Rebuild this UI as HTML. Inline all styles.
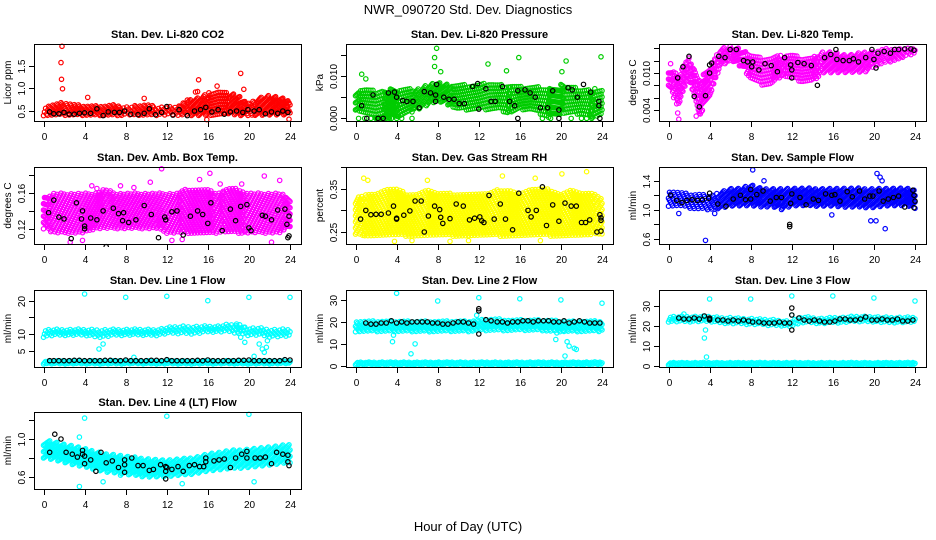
<!DOCTYPE html>
<html><head><meta charset="utf-8">
<style>
html,body{margin:0;padding:0;background:#fff;}
svg{display:block;font-family:"Liberation Sans",sans-serif;}
</style></head>
<body>
<svg id="chart" width="936" height="540" viewBox="0 0 936 540" xmlns="http://www.w3.org/2000/svg">
<text x="468" y="14" text-anchor="middle" font-size="13">NWR_090720  Std. Dev. Diagnostics</text>
<text x="468" y="531" text-anchor="middle" font-size="13">Hour of Day (UTC)</text>
</svg>
<script>
// ---- data (hourly band lo/hi at hours 0..24, outliers, black points) ----
const xTicks = [0,4,8,12,16,20,24];

const co2Hi = [0.6,0.65,0.7,0.65,0.62,0.62,0.62,0.65,0.6,0.62,0.65,0.6,0.6,0.6,0.75,0.8,0.9,0.95,0.9,0.85,0.7,0.8,0.85,0.8,0.75];
const co2Lo = [0.4,0.4,0.4,0.4,0.4,0.4,0.4,0.4,0.4,0.4,0.4,0.4,0.4,0.4,0.4,0.4,0.4,0.4,0.4,0.4,0.4,0.4,0.4,0.4,0.4];
const co2Out = [[1.7,1.57],[1.8,1.93],[1.75,1.2],[1.85,0.99],[15.1,1.19],[19.2,1.33],[19.5,0.98],[16.9,1.05],[23.9,0.32],[15.9,0.31],[4.3,0.8],[9.8,0.78],[14.8,0.92],[15,0.93]];
const co2Black = [[0.6,0.48],[1,0.44],[1.5,0.44],[2,0.47],[2.5,0.43],[3,0.43],[3.5,0.45],[4,0.46],[4.6,0.45],[5.2,0.55],[5.8,0.4],[6.3,0.48],[6.9,0.47],[7.4,0.47],[7.9,0.5],[8.5,0.43],[9.2,0.42],[9.8,0.45],[10.3,0.55],[10.9,0.42],[11.5,0.47],[12,0.6],[12.6,0.41],[13.2,0.53],[14,0.4],[14.7,0.5],[15.3,0.53],[15.8,0.58],[16.4,0.48],[17,0.53],[17.6,0.43],[18.2,0.48],[18.8,0.5],[19.4,0.47],[19.9,0.53],[20.5,0.5],[21,0.53],[21.6,0.44],[22.2,0.48],[22.8,0.45],[23.3,0.5],[23.8,0.47]];

const presHi = [0.007,0.007,0.0065,0.007,0.007,0.007,0.007,0.008,0.0085,0.008,0.008,0.008,0.008,0.0085,0.008,0.008,0.0075,0.0075,0.0075,0.007,0.008,0.0075,0.007,0.007,0.007];
const presLo = [0.002,0.001,0,0,0,0.001,0.002,0.003,0.004,0.003,0.002,0.002,0.002,0.002,0.002,0.001,0.002,0.002,0.001,0,0.001,0.001,0.001,0,0.001];
const presOut = [[0.6,0.0104],[1.0,0.0093],[7.7,0.0143],[7.9,0.0165],[7.7,0.0122],[8.3,0.011],[12.9,0.0128],[14.7,0.0112],[15.9,0.0143],[20.1,0.011],[20.5,0.0135],[23.9,0.0145],[0.3,0],[0.9,0],[1.5,0],[2.0,0],[2.5,0],[3.0,0],[3.5,0],[4.0,0],[4.5,0],[5.5,0],[18.2,0],[19.0,0],[21.0,0],[22.0,0],[22.5,0],[23.0,0]];
const presBlack = [[0.6,0.003],[1.1,0],[1.7,0.0055],[2.2,0],[2.7,0],[3.2,0.006],[3.8,0.0062],[4,0.005],[4.6,0.0042],[5,0.004],[5.6,0.004],[6.2,0.0025],[6.7,0.0063],[7.3,0.006],[7.9,0.008],[7.8,0.0055],[7.8,0.004],[8.6,0.005],[9.1,0.0045],[9.6,0.0045],[10.1,0.0035],[10.6,0.0035],[11.4,0.0075],[11.9,0.0082],[12,0.0022],[12.7,0.007],[13.2,0.004],[13.6,0.004],[14.3,0.0075],[15.0,0.004],[15.5,0.003],[15.8,0.0065],[15.8,0],[16.5,0.0067],[17.0,0.006],[17.5,0.005],[18,0.0025],[18.7,0.0025],[19.2,0.0065],[19.8,0.002],[19.8,0],[20.7,0.0072],[21.1,0.0067],[21.6,0.005],[22.2,0.008],[22.9,0.0062],[23.7,0.004],[23.7,0.003],[23.8,0]];

const tempHi = [0.011,0.010,0.0125,0.009,0.011,0.014,0.0145,0.014,0.013,0.0125,0.0125,0.013,0.013,0.0125,0.0125,0.0135,0.0135,0.013,0.013,0.0135,0.0135,0.014,0.014,0.014,0.014];
const tempLo = [0.008,0.005,0.009,0.003,0.006,0.011,0.012,0.011,0.009,0.008,0.008,0.0095,0.009,0.0085,0.0085,0.010,0.010,0.010,0.010,0.010,0.011,0.0115,0.012,0.0125,0.013];
const tempOut = [[0.2,0.0115],[1.0,0.0025],[0.9,0.0035],[0.8,0.005],[0.5,0.006],[2.7,0.003],[3.0,0.0035]];
const tempBlack = [[0.9,0.0092],[1.4,0.011],[2.0,0.0127],[2.5,0.0062],[3.0,0.0045],[3.6,0.0063],[4.0,0.0113],[4.2,0.0116],[4.0,0.010],[4.9,0.0127],[5.5,0.0125],[6.0,0.0138],[6.6,0.0138],[7.3,0.012],[7.7,0.0118],[8.2,0.0118],[8.1,0.011],[8.8,0.0105],[9.4,0.0115],[10,0.0112],[10.6,0.0102],[11.3,0.0125],[11.9,0.0113],[12.0,0.0105],[12.0,0.0092],[12.6,0.0117],[13.2,0.0115],[13.9,0.0112],[14.5,0.008],[15.2,0.0125],[15.8,0.013],[16.3,0.0138],[16.4,0.0122],[17.0,0.012],[17.6,0.012],[18.0,0.0123],[18.5,0.0118],[19.2,0.0125],[19.8,0.0138],[20.0,0.0122],[20.2,0.0108],[20.4,0.0132],[21.0,0.0135],[21.6,0.0132],[22.0,0.0138],[22.4,0.0138],[23.0,0.0139],[23.6,0.0139],[23.9,0.0137]];

const ambHi = [0.155,0.16,0.16,0.16,0.16,0.16,0.165,0.16,0.16,0.16,0.16,0.16,0.16,0.16,0.165,0.165,0.165,0.16,0.165,0.165,0.16,0.16,0.16,0.16,0.155];
const ambLo = [0.12,0.115,0.115,0.115,0.115,0.12,0.12,0.12,0.12,0.12,0.12,0.12,0.115,0.115,0.115,0.115,0.115,0.115,0.115,0.115,0.115,0.115,0.115,0.115,0.12];
const ambOut = [[4.7,0.168],[5.2,0.165],[11.5,0.187],[10.4,0.172],[15.2,0.175],[16.2,0.182],[21.5,0.179],[23,0.174],[17.2,0.17],[19.3,0.17],[2.6,0.105],[3.8,0.107],[12.5,0.107],[22.2,0.105],[13.5,0.108],[7.5,0.168],[8.8,0.166]];
const ambBlack = [[0.5,0.138],[1.0,0.152],[1.5,0.133],[2.0,0.131],[2.7,0.109],[3.2,0.149],[3.7,0.131],[3.8,0.14],[4,0.123],[4.0,0.12],[4.6,0.132],[5.2,0.13],[5.8,0.14],[6.1,0.10],[6.8,0.143],[7.3,0.137],[7.8,0.138],[7.7,0.129],[8.3,0.127],[9.0,0.13],[9.8,0.146],[10.5,0.136],[11.2,0.11],[11.8,0.133],[11.9,0.13],[12.5,0.139],[13.0,0.14],[13.6,0.113],[14.3,0.134],[15.0,0.14],[15.5,0.136],[16.0,0.126],[16.3,0.149],[17.4,0.118],[18.2,0.142],[18.7,0.129],[19.2,0.145],[19.8,0.147],[20.0,0.121],[20.2,0.118],[21.3,0.135],[21.6,0.134],[22.2,0.13],[22.8,0.141],[23.5,0.142],[23.9,0.134],[23.7,0.125],[23.8,0.11],[23.9,0.112]];

const rhHi = [0.33,0.34,0.34,0.35,0.35,0.34,0.34,0.35,0.34,0.34,0.34,0.34,0.34,0.34,0.35,0.35,0.34,0.35,0.35,0.35,0.34,0.35,0.34,0.34,0.33];
const rhLo = [0.245,0.24,0.24,0.24,0.24,0.24,0.24,0.24,0.24,0.24,0.24,0.24,0.24,0.24,0.24,0.24,0.24,0.24,0.24,0.24,0.24,0.24,0.24,0.24,0.245];
const rhOut = [[0.8,0.375],[1.2,0.37],[7,0.37],[14.3,0.38],[20.1,0.385],[22.5,0.39],[17.5,0.375],[3.8,0.228],[9.2,0.228],[18,0.23],[5.5,0.23],[11,0.23]];
const rhBlack = [[0.5,0.28],[1.0,0.30],[1.5,0.29],[2.0,0.291],[2.5,0.291],[3.2,0.294],[3.7,0.31],[4,0.282],[4.0,0.28],[4.7,0.289],[5.3,0.299],[5.8,0.322],[6.4,0.322],[6.7,0.25],[7.1,0.287],[7.7,0.31],[8.2,0.302],[8.3,0.284],[8.5,0.27],[9.2,0.281],[9.8,0.315],[10.5,0.31],[11.1,0.278],[11.6,0.282],[12.1,0.285],[12.3,0.276],[12.5,0.272],[13.0,0.335],[13.5,0.28],[14.1,0.315],[14.6,0.28],[15.3,0.255],[15.9,0.34],[16.8,0.30],[17.1,0.285],[17.6,0.3],[18.2,0.355],[18.6,0.265],[19.2,0.313],[19.8,0.275],[20.4,0.317],[21.0,0.31],[21.5,0.31],[22.0,0.272],[22.4,0.272],[22.8,0.278],[23.5,0.25],[23.9,0.252],[23.8,0.29],[23.9,0.283],[23.9,0.277]];

const flowHi = [1.27,1.25,1.22,1.22,1.2,1.25,1.3,1.3,1.35,1.3,1.3,1.3,1.3,1.3,1.3,1.3,1.3,1.3,1.3,1.3,1.3,1.3,1.3,1.3,1.28];
const flowLo = [1.05,1.05,1.02,1.0,1.0,1.02,1.05,1.05,1.05,1.03,1.05,1.0,1.05,1.05,1.05,1.05,1.05,1.03,1.03,1.03,1.03,1.05,1.05,1.05,1.02];
const flowOut = [[3.6,0.58],[8.2,1.55],[9.3,1.4],[20.3,1.5],[20.6,1.45],[20.8,1.4],[19.7,0.85],[20.2,0.85],[21.1,0.74],[4.5,0.95],[1.0,0.95],[15.9,0.93]];
const flowBlack = [[0.2,1.2],[0.8,1.13],[1.3,1.1],[1.8,1.13],[2.3,1.14],[2.8,1.13],[3.3,1.14],[3.9,1.16],[4.0,1.23],[4.8,1.08],[5.6,1.05],[6.3,1.15],[7.0,1.2],[7.5,1.14],[8.0,1.28],[8.0,1.15],[8.6,1.21],[9.2,1.26],[9.9,1.12],[10.5,1.17],[11.0,1.17],[11.9,1.09],[12.0,1.22],[11.8,0.8],[11.8,0.77],[12.8,1.17],[13.4,1.07],[14.1,1.15],[14.6,1.13],[15.3,1.22],[15.9,1.2],[16.2,1.21],[16.7,1.12],[17.4,1.25],[17.9,1.18],[18.6,1.26],[19.1,1.15],[19.6,1.19],[19.9,1.19],[20.5,1.26],[20.9,1.12],[21.4,1.15],[21.9,1.17],[22.4,1.19],[23.0,1.04],[23.8,1.27],[23.9,1.2],[23.9,1.03],[24,1.12]];

const line1Hi = [11.5,11.5,11.5,11.5,11.5,11.5,11.5,11.5,11.5,11.5,11.5,11.5,12,12.5,12.5,12.5,12.5,12.5,13,13,12,12,11.5,11.5,11.5];
const line1Lo = [9,9.5,9.5,9.5,9.5,9,9,9.5,9.5,9.5,9.5,9.5,10,10,10,10,10.5,10.5,10.5,10,9.5,9.5,9,9,9];
const line1BaseHi = [2,2,2,2,2,2,2,2,2,2,2,2,2,2,2,2,2,2,2,2,2,2,2,2,2];
const line1BaseLo = [1,1,1,1,1,1,1,1,1,1,1,1,1,1,1,1,1,1,1,1,1,1,1,1,1];
const line1Out = [[4,22],[8,21],[12,21.3],[16,20],[20,21],[24,21],[5.4,5.5],[5.8,7],[19.2,9],[19.6,7.5],[21,7],[21.5,4.5],[21.7,6],[21.3,5.5],[21.8,8],[20.5,3.3],[19.5,12],[18.8,13],[8.8,3]];
const line1BlackHours = [0.6,1.0,1.5,2.0,2.5,3.0,3.5,4.0,4.5,5.0,5.5,6.0,6.5,7.0,7.5,8.0,8.5,9.0,9.5,10.0,10.5,11.0,11.5,12.0,12.5,13.0,13.5,14.0,14.5,15.0,15.5,16.0,16.5,17.0,17.5,18.0,18.5,19.0,19.5,20.0,20.5,21.0,21.5,22.0,22.5,23.0,23.5,24.0];
const line1BlackVals = [2,2,2,2,2,2.1,2.1,2,2,2,2,2.1,2.1,2,2,2.2,2,2,2,2,2.1,2.1,2,2.3,2,2,2,2,2,2.1,2,2.2,2,2,2,2,2,2.1,2.1,2.2,2,2,2,2,2,2,2.3,2.2];

const line2Hi = [20.5,20.5,20.5,20.5,20.5,20.5,20.5,20.5,20.5,20.5,20.5,20.5,21,21.5,21.5,21,21,21,21,21,20.5,20.5,20.5,20.5,20.5];
const line2Lo = [15.5,15.5,15.5,15.5,15.5,15.5,15.5,15.5,15.5,15.5,15.5,15.5,16,16,16,16,16,16,16,15.5,15.5,15.5,15.5,15.5,15.5];
const line2BaseHi = [1.8,1.8,1.8,1.8,1.8,1.8,1.8,1.8,1.8,1.8,1.8,1.8,1.8,1.8,1.8,1.8,1.8,1.8,1.8,1.8,1.8,1.8,1.8,1.8,1.8];
const line2BaseLo = [0.5,0.5,0.5,0.5,0.5,0.5,0.5,0.5,0.5,0.5,0.5,0.5,0.5,0.5,0.5,0.5,0.5,0.5,0.5,0.5,0.5,0.5,0.5,0.5,0.5];
const line2Out = [[4,33],[8,29.5],[12,31],[16,30.5],[20,30],[24,28.5],[3.6,11],[3.7,14],[5.4,5.5],[5.8,10],[19.5,12],[19.6,15],[20.2,16],[20.4,4.5],[20.6,11],[20.8,9],[21.3,8],[21.5,7.5],[11.8,23]];
const line2BlackHours = [1.0,1.5,2.0,2.5,3.0,3.5,4.0,4.5,5.0,5.5,6.0,6.5,7.0,7.5,8.0,8.5,9.0,9.5,10.0,10.5,11.0,11.5,12.0,12.0,12.0,12.7,13.2,13.8,14.3,14.8,15.3,15.8,16.3,16.8,17.3,17.8,18.3,18.8,19.3,19.8,20.3,20.8,21.3,21.8,22.3,22.8,23.3,23.8];
const line2BlackVals = [19.5,19,19,19.5,19.5,20.5,19.5,20,19.5,20,20,20,20,19.5,19.5,19,19,19.5,20,20,19.5,19,26,25,14.5,21,20.5,20,20,19.5,20,20,20.5,20.5,20,20.5,20.5,20.5,20,20,20.5,19.5,20,20.5,20,19.5,19.5,19.5];

const line3Hi = [25,25,25,25,25,24.5,24.5,24,24,23.5,23.5,23,22.5,25,24.5,24,24.5,24.5,25,25,25,24.5,24.5,24.5,24.5];
const line3Lo = [22,22,22,22,22,21.5,21,21,20.5,20.5,20,20,19.5,21.5,21.5,21,21.5,21.5,22,22,22,21.5,21.5,21.5,21.5];
const line3BaseHi = [1.8,1.8,1.8,1.8,1.8,1.8,1.8,1.8,1.8,1.8,1.8,1.8,1.8,1.8,1.8,1.8,1.8,1.8,1.8,1.8,1.8,1.8,1.8,1.8,1.8];
const line3BaseLo = [0.5,0.5,0.5,0.5,0.5,0.5,0.5,0.5,0.5,0.5,0.5,0.5,0.5,0.5,0.5,0.5,0.5,0.5,0.5,0.5,0.5,0.5,0.5,0.5,0.5];
const line3Out = [[4,33.5],[8,33.5],[12,35],[16,35],[20,34],[24,32.5],[3.5,14],[3.6,18],[3.7,4.5],[12,25.5],[1.5,26]];
const line3BlackHours = [1.0,1.5,2.0,2.5,3.0,3.5,4.0,4.0,4.0,4.8,5.3,5.8,6.3,6.8,7.3,7.8,8.2,8.8,9.3,9.8,10.3,10.8,11.3,11.8,12.0,12.0,12.0,12.7,13.2,13.7,14.2,14.7,15.2,15.7,16.2,16.7,17.2,17.7,18.2,18.7,19.2,19.8,20.3,20.8,21.3,21.8,22.3,22.8,23.3,23.8];
const line3BlackVals = [24,23.5,23.5,24,23.5,25,24,23,23.5,23,23,22.5,23,22.5,23,22.5,22,22,21.5,21.5,21.5,22,21.5,21.5,29,25.5,18,24,23,22.5,23,22.5,22,22,22.5,23.5,23.5,23,23,23.5,24.5,23,23,23.5,23,23,23.5,22.5,22.5,23];

const line4Hi = [1.0,0.98,0.95,0.93,0.9,0.88,0.85,0.84,0.82,0.81,0.8,0.79,0.78,0.79,0.8,0.82,0.85,0.86,0.88,0.89,0.9,0.91,0.92,0.93,0.95];
const line4Lo = [0.8,0.78,0.75,0.72,0.7,0.68,0.65,0.64,0.62,0.61,0.6,0.6,0.6,0.61,0.62,0.64,0.66,0.67,0.68,0.69,0.7,0.71,0.72,0.73,0.75];
const line4Out = [[4,1.22],[12,1.24],[20,1.26],[3.5,0.5],[5.8,0.55],[20.5,0.55],[13.5,0.53],[3.5,1.02],[7.5,0.62]];
const line4Black = [[0.6,0.86],[1.1,1.05],[1.7,1.0],[2.2,0.86],[2.8,0.84],[3.3,0.81],[3.8,0.88],[3.8,0.84],[4,0.82],[4.0,0.74],[4.6,0.78],[5.1,0.66],[5.6,0.86],[6.1,0.75],[6.7,0.77],[7.3,0.7],[7.9,0.78],[7.9,0.73],[7.9,0.65],[8.6,0.8],[9.2,0.72],[9.7,0.72],[10.3,0.67],[10.7,0.68],[11.4,0.73],[11.9,0.71],[11.9,0.66],[12,0.7],[11.9,0.58],[12.5,0.68],[13.1,0.71],[13.6,0.66],[14.2,0.72],[14.7,0.73],[15.2,0.71],[15.6,0.71],[15.8,0.8],[15.8,0.76],[16.6,0.77],[17.1,0.78],[17.6,0.79],[18.2,0.7],[18.7,0.8],[19.3,0.84],[19.8,0.87],[19.8,0.8],[20.6,0.8],[21.1,0.8],[21.6,0.81],[22.2,0.74],[22.7,0.86],[23.3,0.84],[23.8,0.83],[23.9,0.72],[23.8,0.76]];

function zip(h, v){ return h.map((t,i)=>[t, v[i]]); }

const panels = [
 {key:'co2', title:'Stan. Dev. Li-820 CO2', ylab:'Licor ppm', col:0,row:0, ymin:0.28,ymax:1.98, ticks:[0.5,1.0,1.5], labels:['0.5','1.0','1.5'], color:'#ff0000', bands:[[co2Lo,co2Hi]], out:co2Out, black:co2Black},
 {key:'pressure', title:'Stan. Dev. Li-820 Pressure', ylab:'kPa', col:1,row:0, ymin:-0.0006,ymax:0.0175, ticks:[0,0.005,0.010,0.015], labels:['0.000','','0.010',''], color:'#00cc00', bands:[[presLo,presHi]], out:presOut, black:presBlack},
 {key:'temp', title:'Stan. Dev. Li-820 Temp.', ylab:'degrees C', col:2,row:0, ymin:0.0022,ymax:0.0147, ticks:[0.004,0.006,0.008,0.010,0.012,0.014], labels:['0.004','','','0.010','',''], color:'#ff00ff', bands:[[tempLo,tempHi]], out:tempOut, black:tempBlack},
 {key:'ambbox', title:'Stan. Dev. Amb. Box Temp.', ylab:'degrees C', col:0,row:1, ymin:0.103,ymax:0.189, ticks:[0.12,0.14,0.16,0.18], labels:['0.12','','0.16',''], color:'#ff00ff', bands:[[ambLo,ambHi]], out:ambOut, black:ambBlack},
 {key:'rh', title:'Stan. Dev. Gas Stream RH', ylab:'percent', col:1,row:1, ymin:0.222,ymax:0.401, ticks:[0.25,0.30,0.35,0.40], labels:['0.25','','0.35',''], color:'#ffff00', bands:[[rhLo,rhHi]], out:rhOut, black:rhBlack},
 {key:'sampleflow', title:'Stan. Dev. Sample Flow', ylab:'ml/min', col:2,row:1, ymin:0.53,ymax:1.59, ticks:[0.6,0.8,1.0,1.2,1.4], labels:['0.6','','1.0','','1.4'], color:'#0000ff', bands:[[flowLo,flowHi]], out:flowOut, black:flowBlack},
 {key:'line1', title:'Stan. Dev. Line 1 Flow', ylab:'ml/min', col:0,row:2, ymin:0.1,ymax:23.2, ticks:[5,10,15,20], labels:['5','10','','20'], color:'#00ffff', bands:[[line1Lo,line1Hi],[line1BaseLo,line1BaseHi]], out:line1Out, black:zip(line1BlackHours,line1BlackVals)},
 {key:'line2', title:'Stan. Dev. Line 2 Flow', ylab:'ml/min', col:1,row:2, ymin:-0.5,ymax:34.5, ticks:[0,10,20,30], labels:['0','10','20','30'], color:'#00ffff', bands:[[line2Lo,line2Hi],[line2BaseLo,line2BaseHi]], out:line2Out, black:zip(line2BlackHours,line2BlackVals)},
 {key:'line3', title:'Stan. Dev. Line 3 Flow', ylab:'ml/min', col:2,row:2, ymin:-0.5,ymax:38, ticks:[0,10,20,30], labels:['0','10','20','30'], color:'#00ffff', bands:[[line3Lo,line3Hi],[line3BaseLo,line3BaseHi]], out:line3Out, black:zip(line3BlackHours,line3BlackVals)},
 {key:'line4', title:'Stan. Dev. Line 4 (LT) Flow', ylab:'ml/min', col:0,row:3, ymin:0.474,ymax:1.284, ticks:[0.6,0.8,1.0,1.2], labels:['0.6','','1.0',''], color:'#00ffff', bands:[[line4Lo,line4Hi]], out:line4Out, black:line4Black}
];

const NS='http://www.w3.org/2000/svg';
const svg=document.getElementById('chart');
const colLeft=[34,346,659], rowTop=[44,167,290,412], PW=267, PH=77;

function el(tag, parent){ const e=document.createElementNS(NS,tag); parent.appendChild(e); return e; }
function interp(arr,t){ const i=Math.min(23,Math.floor(t)); const f=t-i; return arr[i]*(1-f)+arr[i+1]*f; }

panels.forEach(p=>{
  const L=colLeft[p.col], T=rowTop[p.row];
  const xs=t=>L+9.5+t*(246.5/24);
  const ys=v=>T+PH-(v-p.ymin)/(p.ymax-p.ymin)*PH;
  const g=el('g',svg);
  
  
  const clipId='clip-'+p.key;
  const cp=el('clipPath',g); cp.setAttribute('id',clipId);
  const cr=el('rect',cp); cr.setAttribute('x',L-3); cr.setAttribute('y',T-3); cr.setAttribute('width',PW+6); cr.setAttribute('height',PH+6);

  const title=el('text',g);
  
  
  title.setAttribute('x',L+PW/2); title.setAttribute('y',T-6);
  title.setAttribute('text-anchor','middle'); title.setAttribute('font-size','11'); title.setAttribute('font-weight','bold');
  title.textContent=p.title;

  const marks=el('g',g);
  
  
  marks.setAttribute('clip-path','url(#'+clipId+')');
  marks.setAttribute('fill','none'); marks.setAttribute('stroke-width','1.2');

  function dot(t,v,color,name){
    const c=el('circle',marks);
    
    
    c.setAttribute('cx',xs(t).toFixed(1)); c.setAttribute('cy',ys(v).toFixed(1));
    c.setAttribute('r','2.2'); c.setAttribute('stroke',color);
  }
  p.bands.forEach(b=>{
    const lo=b[0], hi=b[1];
    for(let c=0;c<=240;c++){
      const t=c*0.1;
      const l=interp(lo,t), h=interp(hi,t);
      const px=Math.abs(ys(l)-ys(h));
      const n=Math.max(1,Math.round(px/6.5));
      for(let j=0;j<n;j++){
        const fr=((c*0.381966+j/n)%1);
        dot(t,l+(h-l)*fr,p.color,p.key+'-cloud-point');
      }
    }
  });
  p.out.forEach(o=>dot(o[0],o[1],p.color,p.key+'-outlier'));
  p.black.forEach(o=>dot(o[0],o[1],'#000',p.key+'-mean-point'));

  const box=el('rect',g);
  
  
  box.setAttribute('x',L+0.5); box.setAttribute('y',T+0.5); box.setAttribute('width',PW); box.setAttribute('height',PH);
  box.setAttribute('fill','none'); box.setAttribute('stroke','#000'); box.setAttribute('stroke-width','1');

  const xa=el('g',g);
  
  
  xTicks.forEach(t=>{
    const x=Math.round(xs(t))+0.5;
    const ln=el('line',xa); ln.setAttribute('x1',x); ln.setAttribute('x2',x); ln.setAttribute('y1',T+PH+0.5); ln.setAttribute('y2',T+PH+6); ln.setAttribute('stroke','#000');
    const tx=el('text',xa);
    
    
    tx.setAttribute('x',x); tx.setAttribute('y',T+PH+19); tx.setAttribute('text-anchor','middle'); tx.setAttribute('font-size','10');
    tx.textContent=String(t);
  });
  const ya=el('g',g);
  
  
  p.ticks.forEach((v,i)=>{
    const y=Math.round(ys(v))+0.5;
    const ln=el('line',ya); ln.setAttribute('x1',L+0.5); ln.setAttribute('x2',L-5); ln.setAttribute('y1',y); ln.setAttribute('y2',y); ln.setAttribute('stroke','#000');
    if(p.labels[i]){
      const tx=el('text',ya);
      
      
      tx.setAttribute('transform','translate('+(L-9)+','+y+') rotate(-90)');
      tx.setAttribute('text-anchor','middle'); tx.setAttribute('font-size','10');
      tx.textContent=p.labels[i];
    }
  });
  const yl=el('text',g);
  
  
  yl.setAttribute('transform','translate('+(L-23)+','+(T+PH/2)+') rotate(-90)');
  yl.setAttribute('text-anchor','middle'); yl.setAttribute('font-size','10');
  yl.textContent=p.ylab;
});
</script>
</body></html>
